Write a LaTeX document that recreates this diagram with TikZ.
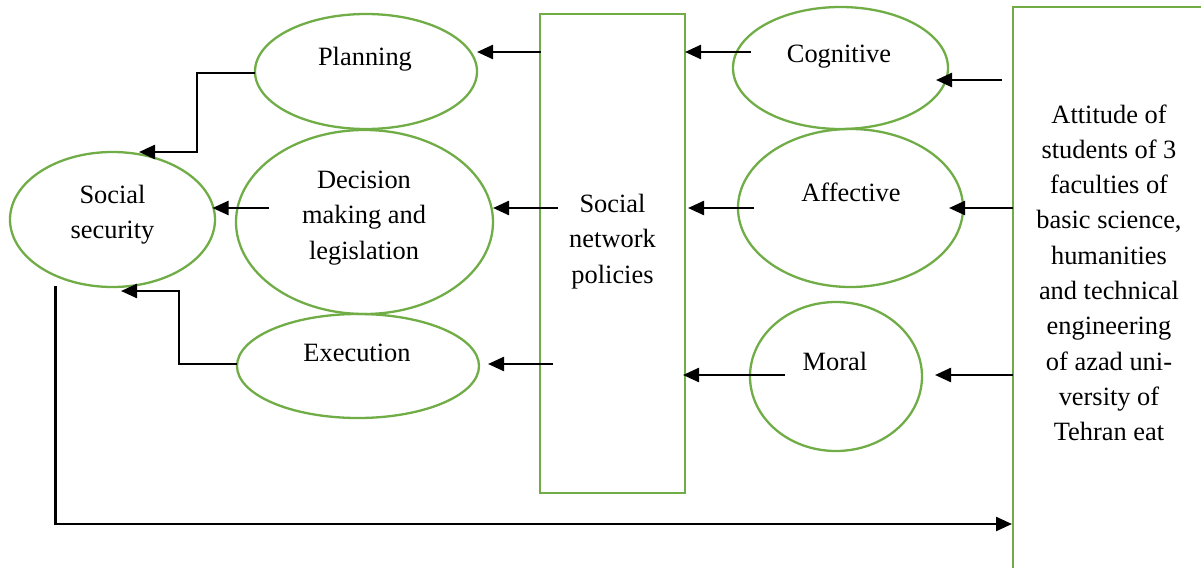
\documentclass[tikz,border=0pt]{standalone}
\usepackage{fontspec}
\setmainfont{Liberation Serif}
\usetikzlibrary{arrows.meta,shapes.geometric}
\definecolor{grn}{HTML}{70AD47}
\begin{document}
\begin{tikzpicture}[x=0.5pt,y=-0.5pt,
  ell/.style={draw=grn,line width=1.15pt,ellipse,inner sep=0pt},
  box/.style={draw=grn,line width=1.15pt,rectangle,inner sep=0pt},
  txt/.style={font=\fontsize{13.2}{17.65}\selectfont,align=center,inner sep=0pt},
  arr/.style={line width=1.2pt,-{Triangle[length=8pt,width=7pt]}},
  ln/.style={line width=1.2pt}]
\useasboundingbox (0,0) rectangle (1201,568);
\clip (0,0) rectangle (1201,568);

% boxes
\node[box,minimum width=72.5pt,minimum height=239.5pt] (mid) at (612.5,253.5) {};
\node[box,minimum width=113.5pt,minimum height=296.5pt] (att) at (1126.5,303.5) {};

% ellipses
\node[ell,minimum width=111pt,minimum height=57.5pt] (plan) at (366,71.5) {};
\node[ell,minimum width=128.5pt,minimum height=92pt] (dec) at (364.5,222) {};
\node[ell,minimum width=102.5pt,minimum height=67.5pt] (soc) at (112.5,219.5) {};
\node[ell,minimum width=121pt,minimum height=52pt] (exe) at (358,366) {};
\node[ell,minimum width=107.5pt,minimum height=61pt] (cog) at (840.5,68) {};
\node[ell,minimum width=112.5pt,minimum height=79pt] (aff) at (850.5,208) {};
\node[ell,minimum width=86pt,minimum height=74.5pt] (mor) at (836,376.5) {};

% texts
\node[txt,anchor=base] (planT) at (365,65.7) {Planning};
\node[txt] (decT) at (364,218) {Decision\\making and\\legislation};
\node[txt] (socT) at (112.5,214.7) {Social\\security};
\node[txt,anchor=base] (exeT) at (357,361.7) {Execution};
\node[txt,anchor=base] (cogT) at (839,62.7) {Cognitive};
\node[txt,anchor=base] (affT) at (851,201.7) {Affective};
\node[txt,anchor=base] (morT) at (835,370.7) {Moral};
\node[txt] (midT) at (612.5,241.4) {Social\\network\\policies};
\node[txt] (attT) at (1109,272.7) {Attitude of\\students of 3\\faculties of\\basic science,\\humanities\\and technical\\engineering\\of azad uni-\\versity of\\Tehran eat};

% connector end points
\coordinate (m1) at (541,52);   \coordinate (p1) at (477,52);
\coordinate (m2) at (558,208);  \coordinate (d2) at (493,208);
\coordinate (m3) at (553,364);  \coordinate (e3) at (488,364);
\coordinate (pl) at (255,73);   \coordinate (k4) at (197,73);
\coordinate (s4) at (139,152);
\coordinate (dl) at (269,208);  \coordinate (s5) at (212.5,208);
\coordinate (el) at (237,364);  \coordinate (k6) at (179,364);
\coordinate (s6) at (121,291);
\coordinate (sb) at (55.5,286); \coordinate (k7) at (55.5,524);
\coordinate (a7) at (1012,524);
\coordinate (c8) at (751,52);   \coordinate (m8) at (685,52);
\coordinate (f9) at (754,208);  \coordinate (m9) at (688,208);
\coordinate (o10) at (785,375); \coordinate (m10) at (683,375);
\coordinate (a11) at (1002,80); \coordinate (c11) at (936,80);
\coordinate (a12) at (1013,208);\coordinate (f12) at (949,208);
\coordinate (a13) at (1013,375);\coordinate (o13) at (935,375);

% connectors
\draw[arr] (m1) -- (p1);
\draw[arr] (m2) -- (d2);
\draw[arr] (m3) -- (e3);
\draw[arr] (pl) -- (k4) |- (s4);
\draw[arr] (dl) -- (s5);
\draw[arr] (el) -- (k6) |- (s6);
\draw[arr] (sb) -- (k7) -- (a7);
\draw[arr] (c8) -- (m8);
\draw[arr] (f9) -- (m9);
\draw[arr] (o10) -- (m10);
\draw[arr] (a11) -- (c11);
\draw[arr] (a12) -- (f12);
\draw[arr] (a13) -- (o13);
\end{tikzpicture}
\end{document}
